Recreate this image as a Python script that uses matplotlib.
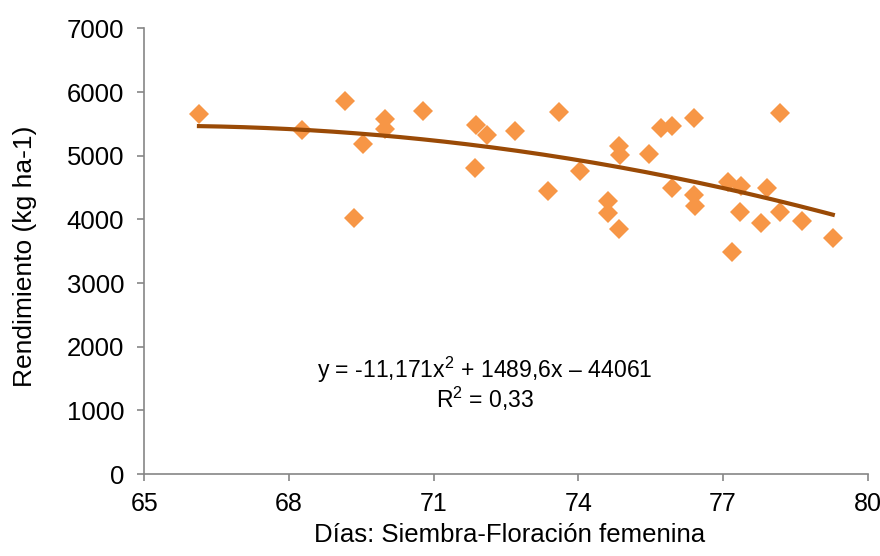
import numpy as np
import matplotlib
matplotlib.use("Agg")
from matplotlib import pyplot as plt

# dias siembra-floracion femenina vs rendimiento (kg/ha)
dias = [66.13, 68.26, 69.15, 69.53, 69.35, 70.00, 70.00, 70.77,
        71.88, 72.10, 71.86, 72.69, 73.60, 73.37, 74.04, 74.61,
        74.61, 74.85, 74.84, 74.87, 75.47, 75.72, 75.95, 76.39,
        75.94, 76.39, 76.42, 78.18, 77.11, 77.38, 77.92, 77.35,
        77.80, 78.18, 78.65, 79.28, 77.19]
rendimiento = [5648, 5402, 5862, 5182, 4015, 5580, 5418, 5695,
               5480, 5318, 4810, 5386, 5690, 4449, 4753, 4287,
               4094, 3843, 5155, 5009, 5025, 5433, 5470, 5590,
               4491, 4381, 4209, 5664, 4590, 4523, 4487, 4119,
               3947, 4110, 3978, 3702, 3491]

x_ticks = [65, 68, 71, 74, 77, 80]
y_ticks = [0, 1000, 2000, 3000, 4000, 5000, 6000, 7000]

plt.rcParams['font.family'] = ['Liberation Sans', 'DejaVu Sans']
plt.rcParams['mathtext.fontset'] = 'custom'
plt.rcParams['mathtext.rm'] = 'Liberation Sans'
plt.rcParams['mathtext.default'] = 'regular'

fig = plt.figure(figsize=(8.8, 5.56), dpi=100)
ax = fig.add_axes([0.1642, 0.1473, 0.8216, 0.8017])

ax.plot(dias, rendimiento, linestyle='none', marker='D', markersize=10.3,
        color='#F79646', markeredgewidth=0, zorder=2)

# tendencia polinomica de grado 2
coef = np.polyfit(dias, rendimiento, 2)
xs = np.linspace(min(dias), max(dias), 200)
ax.plot(xs, np.polyval(coef, xs), color='#9A4A06', linewidth=3, zorder=3)

ax.set_xlim(65, 80)
ax.set_ylim(0, 7000)
ax.set_xticks(x_ticks)
ax.set_yticks(y_ticks)

for side in ['top', 'right']:
    ax.spines[side].set_visible(False)
for side in ['left', 'bottom']:
    ax.spines[side].set_color('#868686')
    ax.spines[side].set_linewidth(1.2)
ax.tick_params(direction='out', length=5, width=1.2, color='#868686',
               labelcolor='black')
ax.tick_params(axis='x', pad=8, labelsize=18)
ax.tick_params(axis='y', pad=9.5, labelsize=18.5)

ax.set_xlabel('Días: Siembra-Floración femenina', fontsize=18.5)
ax.xaxis.set_label_coords(0.505, -0.1516)
ax.xaxis.label.set_va('baseline')
ax.set_ylabel('Rendimiento (kg ha-1)', fontsize=19)
ax.yaxis.set_label_coords(-0.165, 0.488)
ax.yaxis.label.set_va('center')

ax.text(72.06, 1509, 'y = -11,171x$^2$ + 1489,6x – 44061', fontsize=16.6,
        ha='center', va='baseline')
ax.text(72.06, 1038, 'R$^2$ = 0,33', fontsize=16.6, ha='center', va='baseline')

fig.savefig('out.png', dpi=100)
